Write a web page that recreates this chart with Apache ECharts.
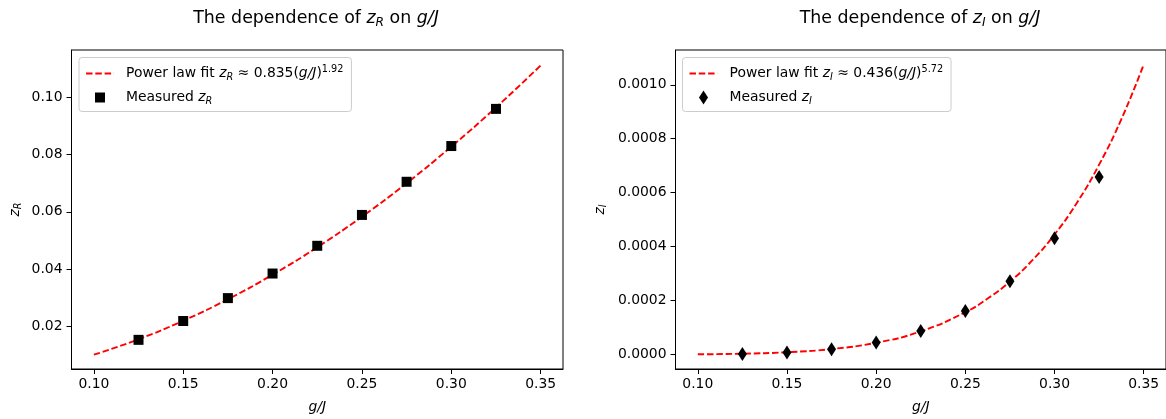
<!DOCTYPE html>
<html>
<head>
<meta charset="utf-8">
<script src="https://cdn.jsdelivr.net/npm/echarts@6/dist/echarts.min.js"></script>
<style>
html,body{margin:0;padding:0;background:#fff;}
#c{width:1166px;height:419px;}
</style>
</head>
<body>
<div id="c"></div>
<script>
// ---- data ----
const xFitR = [0.100, 0.125, 0.150, 0.175, 0.200, 0.225, 0.250, 0.275, 0.300, 0.325, 0.350];
const fitR  = [0.0100, 0.0154, 0.0219, 0.0294, 0.0380, 0.0476, 0.0583, 0.0700, 0.0828, 0.0965, 0.1112];
const xMeas = [0.125, 0.150, 0.175, 0.200, 0.225, 0.250, 0.275, 0.300, 0.325];
const measR = [0.0152, 0.0218, 0.0298, 0.0384, 0.0481, 0.0589, 0.0705, 0.0830, 0.0960];
const xFitI = [0.100, 0.125, 0.150, 0.175, 0.200, 0.225, 0.250, 0.2625, 0.275, 0.2875, 0.300, 0.3125, 0.325, 0.3375, 0.350];
const fitI  = [0.0000008, 0.0000030, 0.0000085, 0.0000204, 0.0000437, 0.0000858, 0.0001569, 0.0002075, 0.0002705, 0.000349, 0.000445, 0.000562, 0.000704, 0.000873, 0.001075];
const measI = [0.0000020, 0.0000074, 0.0000196, 0.0000443, 0.0000874, 0.000161, 0.000272, 0.000431, 0.000658];
const xTicks = [0.10, 0.15, 0.20, 0.25, 0.30, 0.35];
const yTicksR = [0.02, 0.04, 0.06, 0.08, 0.10];
const yTicksI = [0.0000, 0.0002, 0.0004, 0.0006, 0.0008, 0.0010];

const FONT = 'DejaVu Sans';
function rich(size, lh) {
  const sub = Math.round(size * 0.7 * 10) / 10;
  const base = {fontFamily: FONT, fontWeight: 'normal', color: '#000'};
  return {
    n: Object.assign({fontSize: size, lineHeight: lh}, base),
    i: Object.assign({fontSize: size, lineHeight: lh, fontStyle: 'italic'}, base),
    s: Object.assign({fontSize: sub, lineHeight: sub + 1, fontStyle: 'italic', verticalAlign: 'bottom'}, base),
    sup: Object.assign({fontSize: sub, lineHeight: sub + 1, verticalAlign: 'top'}, base),
    g: Object.assign({fontSize: size, lineHeight: lh, width: 7}, base)
  };
}
const legendNames = {
  fitR: '{g| }{n|Power law fit }{i|z}{s|R}{n| ≈ 0.835(}{i|g/J}{n|)}{sup|1.92}',
  measR: '{g| }{n|Measured }{i|z}{s|R}',
  fitI: '{g| }{n|Power law fit }{i|z}{s|I}{n| ≈ 0.436(}{i|g/J}{n|)}{sup|5.72}',
  measI: '{g| }{n|Measured }{i|z}{s|I}'
};

function pairs(xs, ys) { return xs.map((x, k) => [x, ys[k]]); }

const gridL = {left: 71.5, top: 50, width: 491.5, height: 321};
const gridR = {left: 675.5, top: 50, width: 491.3, height: 321};

function xAxisDef(gi) {
  return {
    type: 'value', gridIndex: gi, min: 0.0875, max: 0.3625,
    axisLine: {show: true, onZero: false, lineStyle: {color: '#000', width: 1}},
    axisTick: {show: true, length: 5, customValues: xTicks, lineStyle: {color: '#000'}},
    axisLabel: {customValues: xTicks, formatter: v => v.toFixed(2), fontFamily: FONT, fontSize: 13.9, color: '#000', margin: 8},
    splitLine: {show: false},
    name: '{i|g/J}', nameLocation: 'middle', nameGap: 29,
    nameTextStyle: {rich: rich(13.9, 18)}
  };
}
function yAxisDef(gi, min, max, ticks, dec, nm, gap) {
  return {
    type: 'value', gridIndex: gi, min: min, max: max,
    axisLine: {show: true, onZero: false, lineStyle: {color: '#000', width: 1}},
    axisTick: {show: true, length: 5, customValues: ticks, lineStyle: {color: '#000'}},
    axisLabel: {customValues: ticks, formatter: v => v.toFixed(dec), fontFamily: FONT, fontSize: 13.9, color: '#000', margin: 9},
    splitLine: {show: false},
    name: nm, nameLocation: 'middle', nameGap: gap, nameRotate: 90,
    nameTextStyle: {rich: rich(13.9, 16)}
  };
}
function legendDef(left, names, icon, ih) {
  return {
    orient: 'vertical', left: left, top: 57.5,
    data: [{name: names[0], itemStyle: {opacity: 0}}, {name: names[1], icon: icon}],
    itemWidth: 28, itemHeight: ih, itemGap: 8,
    padding: [7, 8, 5, 6],
    backgroundColor: 'rgba(255,255,255,0.8)',
    borderColor: '#cccccc', borderWidth: 1, borderRadius: 3,
    formatter: n => legendNames[n],
    textStyle: {rich: rich(13.9, 18)},
    selectedMode: false
  };
}

const chart = echarts.init(document.getElementById('c'), null, {renderer: 'canvas'});
chart.setOption({
  animation: false,
  backgroundColor: '#fff',
  title: [
    {text: '{n|The dependence of }{i|z}{s|R}{n| on }{i|g/J}', left: 311, top: 2, textAlign: 'center',
     textStyle: {fontWeight: 'normal', rich: rich(17.4, 22)}},
    {text: '{n|The dependence of }{i|z}{s|I}{n| on }{i|g/J}', left: 915, top: 2, textAlign: 'center',
     textStyle: {fontWeight: 'normal', rich: rich(17.4, 22)}}
  ],
  grid: [
    Object.assign({show: true, borderColor: '#000', borderWidth: 1, backgroundColor: 'transparent'}, gridL),
    Object.assign({show: true, borderColor: '#000', borderWidth: 1, backgroundColor: 'transparent'}, gridR)
  ],
  xAxis: [xAxisDef(0), xAxisDef(1)],
  yAxis: [
    yAxisDef(0, 0.0050, 0.1166, yTicksR, 2, '{i|z}{s|R}', 48),
    yAxisDef(1, -0.0000537, 0.001129, yTicksI, 4, '{i|z}{s|I}', 67)
  ],
  legend: [
    legendDef(79, ['fitR', 'measR'], 'path://M0,0L10,0L10,10L0,10Z', 10),
    legendDef(682.5, ['fitI', 'measI'], 'path://M4.5,0L9,7L4.5,14L0,7Z', 14)
  ],
  series: [
    {name: 'fitR', type: 'line', xAxisIndex: 0, yAxisIndex: 0, data: pairs(xFitR, fitR),
     showSymbol: false, symbol: 'none', smooth: true,
     lineStyle: {color: '#ff0000', width: 1.9, type: [6.5, 2.8]}, itemStyle: {color: '#ff0000'}, z: 2},
    {name: 'measR', type: 'scatter', xAxisIndex: 0, yAxisIndex: 0, data: pairs(xMeas, measR),
     symbol: 'rect', symbolSize: 10, itemStyle: {color: '#000', opacity: 1}, z: 3},
    {name: 'fitI', type: 'line', xAxisIndex: 1, yAxisIndex: 1, data: pairs(xFitI, fitI),
     showSymbol: false, symbol: 'none', smooth: true,
     lineStyle: {color: '#ff0000', width: 1.9, type: [6.5, 2.8]}, itemStyle: {color: '#ff0000'}, z: 2},
    {name: 'measI', type: 'scatter', xAxisIndex: 1, yAxisIndex: 1, data: pairs(xMeas, measI),
     symbol: 'diamond', symbolSize: [9, 14], itemStyle: {color: '#000', opacity: 1}, z: 3}
  ]
});
</script>
</body>
</html>
